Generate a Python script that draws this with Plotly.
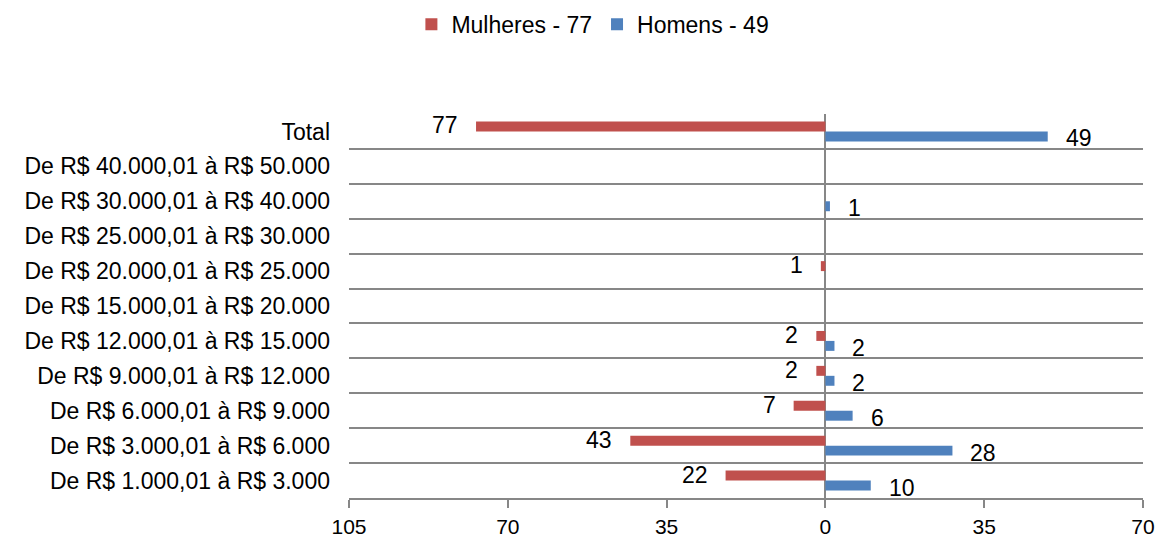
import plotly.graph_objects as go

categories = [
    "De R$ 1.000,01 à R$ 3.000",
    "De R$ 3.000,01 à R$ 6.000",
    "De R$ 6.000,01 à R$ 9.000",
    "De R$ 9.000,01 à R$ 12.000",
    "De R$ 12.000,01 à R$ 15.000",
    "De R$ 15.000,01 à R$ 20.000",
    "De R$ 20.000,01 à R$ 25.000",
    "De R$ 25.000,01 à R$ 30.000",
    "De R$ 30.000,01 à R$ 40.000",
    "De R$ 40.000,01 à R$ 50.000",
    "Total",
]
mulheres = [22, 43, 7, 2, 2, None, 1, None, None, None, 77]
homens = [10, 28, 6, 2, 2, None, None, None, 1, None, 49]

tick_vals = [-105, -70, -35, 0, 35, 70]
tick_text = ["105", "70", "35", "0", "35", "70"]

RED = "#C0504D"
BLUE = "#4F81BD"
GRID = "#878787"
FONT = "Liberation Sans, Arial, sans-serif"
FS = 23

fig = go.Figure()
fig.add_trace(go.Bar(
    y=categories, x=homens, orientation="h", name="Homens - 49",
    marker=dict(color=BLUE, line=dict(width=0)),
))
fig.add_trace(go.Bar(
    y=categories, x=[-v if v is not None else None for v in mulheres],
    orientation="h", name="Mulheres - 77",
    marker=dict(color=RED, line=dict(width=0)),
))

for cat, v in zip(categories, mulheres):
    if v is not None:
        fig.add_annotation(x=-v, y=cat, text=str(v), showarrow=False,
                           xanchor="right", xshift=-16, yshift=6,
                           font=dict(size=FS, color="black", family=FONT))
for cat, v in zip(categories, homens):
    if v is not None:
        fig.add_annotation(x=v, y=cat, text=str(v), showarrow=False,
                           xanchor="left", xshift=16, yshift=-7,
                           font=dict(size=FS, color="black", family=FONT))

fig.update_layout(
    width=1158, height=538,
    margin=dict(l=349, r=15, t=114, b=40, autoexpand=False),
    paper_bgcolor="white", plot_bgcolor="white",
    font=dict(family=FONT, size=FS, color="black"),
    barmode="group", bargap=0.43, bargroupgap=0,
    showlegend=True,
    legend=dict(orientation="h", traceorder="reversed",
                xref="container", yref="container",
                x=0.512, xanchor="center", y=0.995, yanchor="top",
                font=dict(size=FS, family=FONT), itemwidth=30),
    xaxis=dict(range=[-105, 70], tickvals=tick_vals, ticktext=tick_text,
               showgrid=False, zeroline=True, zerolinecolor=GRID, zerolinewidth=2,
               showline=True, linecolor=GRID, linewidth=2,
               ticks="outside", ticklen=8, tickwidth=2, tickcolor=GRID,
               ticklabelstandoff=1, automargin=False,
               tickfont=dict(size=21), fixedrange=True),
    yaxis=dict(type="category", categoryorder="array", categoryarray=categories,
               range=[-0.5, len(categories) - 0.5],
               tickson="boundaries", showgrid=True, gridcolor=GRID, gridwidth=2,
               ticks="", showline=False, zeroline=False,
               ticklabelstandoff=18, automargin=False,
               tickfont=dict(size=FS), fixedrange=True),
)

fig.write_html(
    "out.html",
    config={"displayModeBar": False},
    post_script="document.body.style.margin='0';document.body.style.overflow='hidden';",
)
